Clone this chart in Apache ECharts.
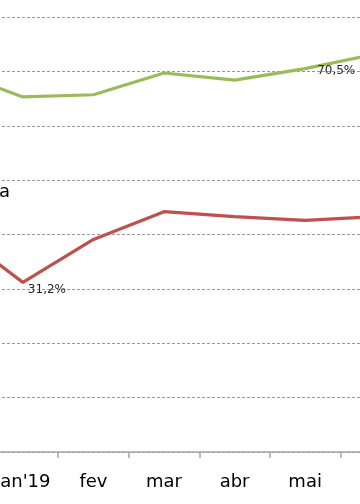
<!DOCTYPE html>
<html>
<head>
<meta charset="utf-8">
<script src="https://cdn.jsdelivr.net/npm/echarts@6/dist/echarts.min.js"></script>
<style>
html,body{margin:0;padding:0;background:#fff;overflow:hidden;width:360px;height:504px;}
#wrap{position:relative;width:360px;height:504px;overflow:hidden;}
#c{position:absolute;left:-83px;top:0;width:494px;height:504px;}
</style>
</head>
<body>
<div id="wrap"><div id="c"></div></div>
<script>
var categories = ['dez', "jan'19", 'fev', 'mar', 'abr', 'mai', 'jun'];
var greenValues = [70.1, 65.3, 65.7, 69.7, 68.4, 70.5, 73.2];
var redValues = [41.0, 31.2, 39.1, 44.2, 43.3, 42.6, 43.3];
var greenLabelIndex = 5;
var redLabelIndex = 1;
var yMin = 0, yMax = 80, yStep = 10;

function fmt(v) { return v.toFixed(1).replace('.', ',') + '%'; }

function buildData(values, idx, offset) {
  return values.map(function (v, i) {
    if (i === idx) {
      return {
        value: v,
        label: {
          show: true, position: 'right', offset: offset, distance: 5,
          formatter: function (p) { return fmt(p.value); },
          fontFamily: 'DejaVu Sans', fontSize: 12, color: '#262626'
        }
      };
    }
    return v;
  });
}

var chart = echarts.init(document.getElementById('c'), null, {renderer: 'canvas'});
chart.setOption({
  animation: false,
  backgroundColor: '#ffffff',
  grid: {left: 0, right: 0, top: 17, height: 435},
  xAxis: {
    type: 'category',
    data: categories,
    boundaryGap: true,
    axisLine: {lineStyle: {color: '#a6a6a6', width: 1.5}},
    axisTick: {show: true, length: 6, lineStyle: {color: '#a6a6a6', width: 1.5}},
    axisLabel: {fontFamily: 'DejaVu Sans', fontSize: 18, color: '#000', margin: 21, interval: 0},
    splitLine: {show: false}
  },
  yAxis: {
    type: 'value',
    min: yMin, max: yMax, interval: yStep,
    axisLine: {show: false},
    axisTick: {show: false},
    axisLabel: {show: false},
    splitLine: {lineStyle: {color: '#999999', type: [3, 2], width: 1}}
  },
  graphic: [{
    type: 'text', left: 82, top: 183,
    style: {text: 'a', font: '18px "DejaVu Sans"', fill: '#000'}
  }],
  series: [
    {
      type: 'line', name: 'verde',
      data: buildData(greenValues, greenLabelIndex, [7, 2]),
      showSymbol: true, symbol: 'circle', symbolSize: 0,
      lineStyle: {color: '#9bbb59', width: 3.2},
      itemStyle: {color: 'rgba(0,0,0,0)'}
    },
    {
      type: 'line', name: 'vermelho',
      data: buildData(redValues, redLabelIndex, [0, 8]),
      showSymbol: true, symbol: 'circle', symbolSize: 0,
      lineStyle: {color: '#c0504d', width: 3.2},
      itemStyle: {color: 'rgba(0,0,0,0)'}
    }
  ]
});
</script>
</body>
</html>
